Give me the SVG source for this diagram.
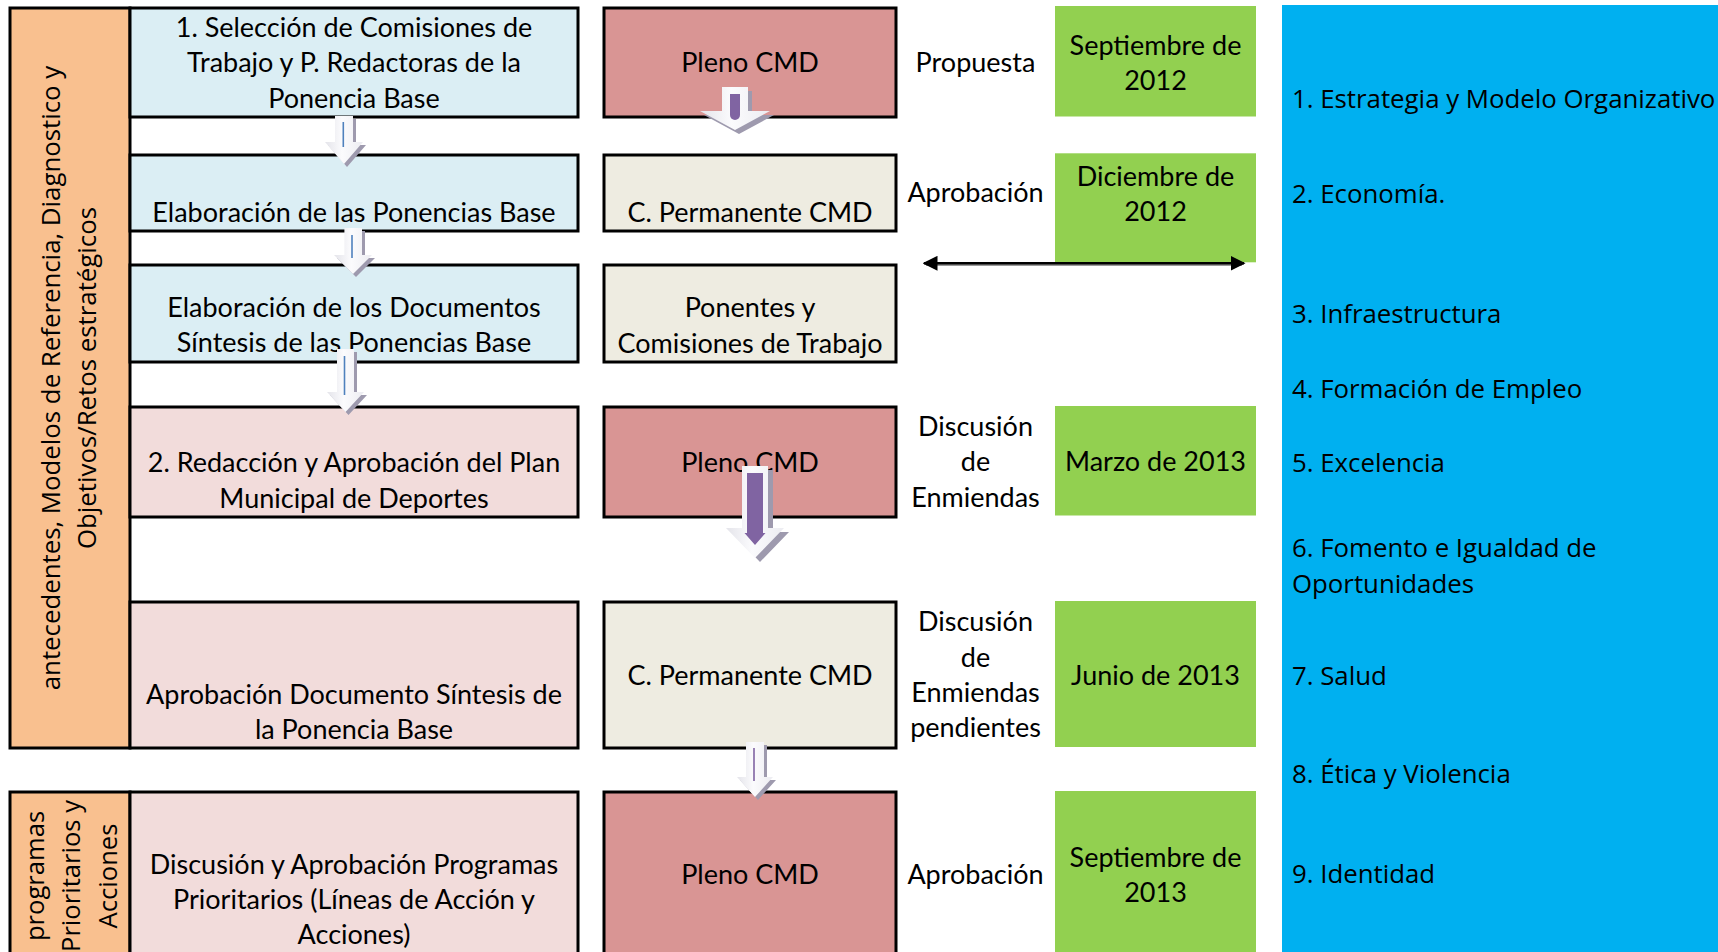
<svg xmlns="http://www.w3.org/2000/svg" width="1718" height="952" viewBox="0 0 1718 952">
<style>
.bx{stroke:#000;stroke-width:3}
.or{fill:#f9c08f}
.lb{fill:#dbeef4}
.pk{fill:#f2dcdb}
.rd{fill:#d99594}
.bg{fill:#eeece1}
.gr{fill:#92d050}
.t{font-family:Lato,"Liberation Sans",sans-serif;font-size:27px;fill:#000;text-anchor:middle}
.o{font-family:"Open Sans","DejaVu Sans",sans-serif;font-size:25.8px;fill:#000}
.om{text-anchor:middle}
.sh{fill:#9e9aae}
.la{fill:url(#lgA)}
</style>
<defs>
<linearGradient id="lgA" x1="0" y1="0" x2="1" y2="0">
<stop offset="0" stop-color="#e4e4ea"/>
<stop offset="0.45" stop-color="#fbfbfd"/>
<stop offset="1" stop-color="#ececf1"/>
</linearGradient>
<marker id="ah" viewBox="0 0 10 10" refX="9" refY="5" markerWidth="6" markerHeight="6" orient="auto-start-reverse">
<path d="M0,0 L10,5 L0,10 Z" fill="#000"/>
</marker>
</defs>

<g id="fase1-label">
<rect class="bx or" x="10" y="8" width="120" height="740"/>
<text class="o om" transform="translate(59.5,378) rotate(-90)">antecedentes, Modelos de Referencia, Diagnostico y</text>
<text class="o om" transform="translate(96,378) rotate(-90)">Objetivos/Retos estratégicos</text>
</g>
<g id="fase2-label">
<rect class="bx or" x="10" y="792" width="120" height="175"/>
<text class="o om" style="font-size:25.6px" transform="translate(43.5,876) rotate(-90)">programas</text>
<text class="o om" style="font-size:25.6px" transform="translate(80,876) rotate(-90)">Prioritarios y</text>
<text class="o om" style="font-size:25.6px" transform="translate(116.5,876) rotate(-90)">Acciones</text>
</g>

<g id="paso-seleccion">
<rect class="bx lb" x="130" y="8" width="448" height="109"/>
<text class="t" x="354" y="36.5">1. Selección de Comisiones de</text>
<text class="t" x="354" y="72.2">Trabajo y P. Redactoras de la</text>
<text class="t" x="354" y="107.8">Ponencia Base</text>
</g>
<g id="paso-elaboracion">
<rect class="bx lb" x="130" y="155" width="448" height="76"/>
<text class="t" x="354" y="222.2">Elaboración de las Ponencias Base</text>
</g>
<g id="paso-sintesis">
<rect class="bx lb" x="130" y="265" width="448" height="97"/>
<text class="t" x="354" y="316.5">Elaboración de los Documentos</text>
<text class="t" x="354" y="352.2">Síntesis de las Ponencias Base</text>
</g>
<g id="paso-redaccion">
<rect class="bx pk" x="130" y="407" width="448" height="110"/>
<text class="t" x="354" y="472.2">2. Redacción y Aprobación del Plan</text>
<text class="t" x="354" y="508.2">Municipal de Deportes</text>
</g>
<g id="paso-aprobacion-doc">
<rect class="bx pk" x="130" y="602" width="448" height="146"/>
<text class="t" x="354" y="703.8">Aprobación Documento Síntesis de</text>
<text class="t" x="354" y="738.8">la Ponencia Base</text>
</g>
<g id="paso-programas">
<rect class="bx pk" x="130" y="792" width="448" height="175"/>
<text class="t" x="354" y="873.8">Discusión y Aprobación Programas</text>
<text class="t" x="354" y="908.8">Prioritarios (Líneas de Acción y</text>
<text class="t" x="354" y="943.8">Acciones)</text>
</g>

<g id="organo-pleno-1">
<rect class="bx rd" x="604" y="8" width="292" height="109"/>
<text class="t" x="750" y="72.2">Pleno CMD</text>
</g>
<g id="organo-permanente-1">
<rect class="bx bg" x="604" y="155" width="292" height="76"/>
<text class="t" x="750" y="222.2">C. Permanente CMD</text>
</g>
<g id="organo-ponentes">
<rect class="bx bg" x="604" y="265" width="292" height="97"/>
<text class="t" x="750" y="317.2">Ponentes y</text>
<text class="t" x="750" y="353.2">Comisiones de Trabajo</text>
</g>
<g id="organo-pleno-2">
<rect class="bx rd" x="604" y="407" width="292" height="110"/>
<text class="t" x="750" y="472.2">Pleno CMD</text>
</g>
<g id="organo-permanente-2">
<rect class="bx bg" x="604" y="602" width="292" height="146"/>
<text class="t" x="750" y="684.5">C. Permanente CMD</text>
</g>
<g id="organo-pleno-3">
<rect class="bx rd" x="604" y="792" width="292" height="175"/>
<text class="t" x="750" y="883.8">Pleno CMD</text>
</g>

<g id="accion-1"><text class="t" x="975.5" y="72.2">Propuesta</text></g>
<g id="accion-2"><text class="t" x="975.5" y="202.2">Aprobación</text></g>
<g id="accion-3">
<text class="t" x="975.5" y="435.5">Discusión</text>
<text class="t" x="975.5" y="471.2">de</text>
<text class="t" x="975.5" y="507.2">Enmiendas</text>
</g>
<g id="accion-4">
<text class="t" x="975.5" y="630.5">Discusión</text>
<text class="t" x="975.5" y="667.2">de</text>
<text class="t" x="975.5" y="702.2">Enmiendas</text>
<text class="t" x="975.5" y="736.5">pendientes</text>
</g>
<g id="accion-5"><text class="t" x="975.5" y="883.8">Aprobación</text></g>

<g id="fecha-1">
<rect class="gr" x="1055" y="6" width="201" height="110.5"/>
<text class="t" x="1155.5" y="54.8">Septiembre de</text>
<text class="t" x="1155.5" y="89.8">2012</text>
</g>
<g id="fecha-2">
<rect class="gr" x="1055" y="153.3" width="201" height="109"/>
<text class="t" x="1155.5" y="185.5">Diciembre de</text>
<text class="t" x="1155.5" y="220.5">2012</text>
</g>
<g id="fecha-3">
<rect class="gr" x="1055" y="406" width="201" height="109.5"/>
<text class="t" x="1155.5" y="471.2">Marzo de 2013</text>
</g>
<g id="fecha-4">
<rect class="gr" x="1055" y="601" width="201" height="146"/>
<text class="t" x="1155.5" y="684.5">Junio de 2013</text>
</g>
<g id="fecha-5">
<rect class="gr" x="1055" y="791" width="201" height="170"/>
<text class="t" x="1155.5" y="866.5">Septiembre de</text>
<text class="t" x="1155.5" y="901.5">2013</text>
</g>

<g id="areas">
<rect x="1282" y="5" width="440" height="952" fill="#00b0f0"/>
<text class="o" x="1292" y="108">1. Estrategia y Modelo Organizativo</text>
<text class="o" x="1292" y="203">2. Economía.</text>
<text class="o" x="1292" y="323">3. Infraestructura</text>
<text class="o" x="1292" y="398">4. Formación de Empleo</text>
<text class="o" x="1292" y="471.5">5. Excelencia</text>
<text class="o" x="1292" y="557">6. Fomento e Igualdad de</text>
<text class="o" x="1292" y="593">Oportunidades</text>
<text class="o" x="1292" y="685">7. Salud</text>
<text class="o" x="1292" y="782.7">8. Ética y Violencia</text>
<text class="o" x="1292" y="883.3">9. Identidad</text>
</g>

<g id="connectors">
<path class="sh" d="M338,119 H356 V145 H366 L347,167 L328,145 H338 Z"/>
<path class="la" d="M335,116 H353 V142 H363 L344,164 L325,142 H335 Z"/>
<line x1="343.3" y1="122" x2="343.3" y2="147" stroke="#4f81bd" stroke-width="1.6"/>
<path class="sh" d="M347.4,231 H365 V258 H375 L356,277 L337,258 H347.4 Z"/>
<path class="la" d="M344.4,228 H362 V255 H372 L353,274 L334,255 H344.4 Z"/>
<line x1="352" y1="235" x2="352" y2="258" stroke="#4f81bd" stroke-width="1.6"/>
<path class="sh" d="M340,352 H357 V395 H367 L348.5,415 L330,395 H340 Z"/>
<path class="la" d="M337,349 H354 V392 H364 L345.5,412 L327,392 H337 Z"/>
<line x1="344.5" y1="356" x2="344.5" y2="395" stroke="#4f81bd" stroke-width="1.6"/>
<path class="sh" d="M726,91 H752 V115 H774 L739,134 L704,115 H726 Z"/>
<path class="la" d="M722,87 H748 V111 H770 L735,130 L700,111 H722 Z"/>
<rect x="730" y="94" width="10" height="26" rx="5" fill="#8064a2"/>
<rect x="730" y="94" width="10" height="10" fill="#8064a2"/>
<path class="sh" d="M747,470 H773 V532 H789 L760,562 L731,532 H747 Z"/>
<path class="la" d="M742,466 H768 V528 H784 L755,558 L726,528 H742 Z"/>
<path d="M747,473 H763 V533 H765.5 L755,545 L744.5,533 H747 Z" fill="#8064a2"/>
<path class="sh" d="M749,745 H767 V780 H776 L758,800 L740,780 H749 Z"/>
<path class="la" d="M746,742 H764 V777 H773 L755,797 L737,777 H746 Z"/>
<line x1="754" y1="748" x2="754" y2="781" stroke="#8064a2" stroke-width="1.6"/>
<line x1="926" y1="265" x2="1242" y2="265" stroke="#9a9a9a" stroke-width="2"/>
<line x1="924" y1="263.3" x2="1244" y2="263.3" stroke="#000" stroke-width="2.5" marker-start="url(#ah)" marker-end="url(#ah)"/>
</g>
</svg>
